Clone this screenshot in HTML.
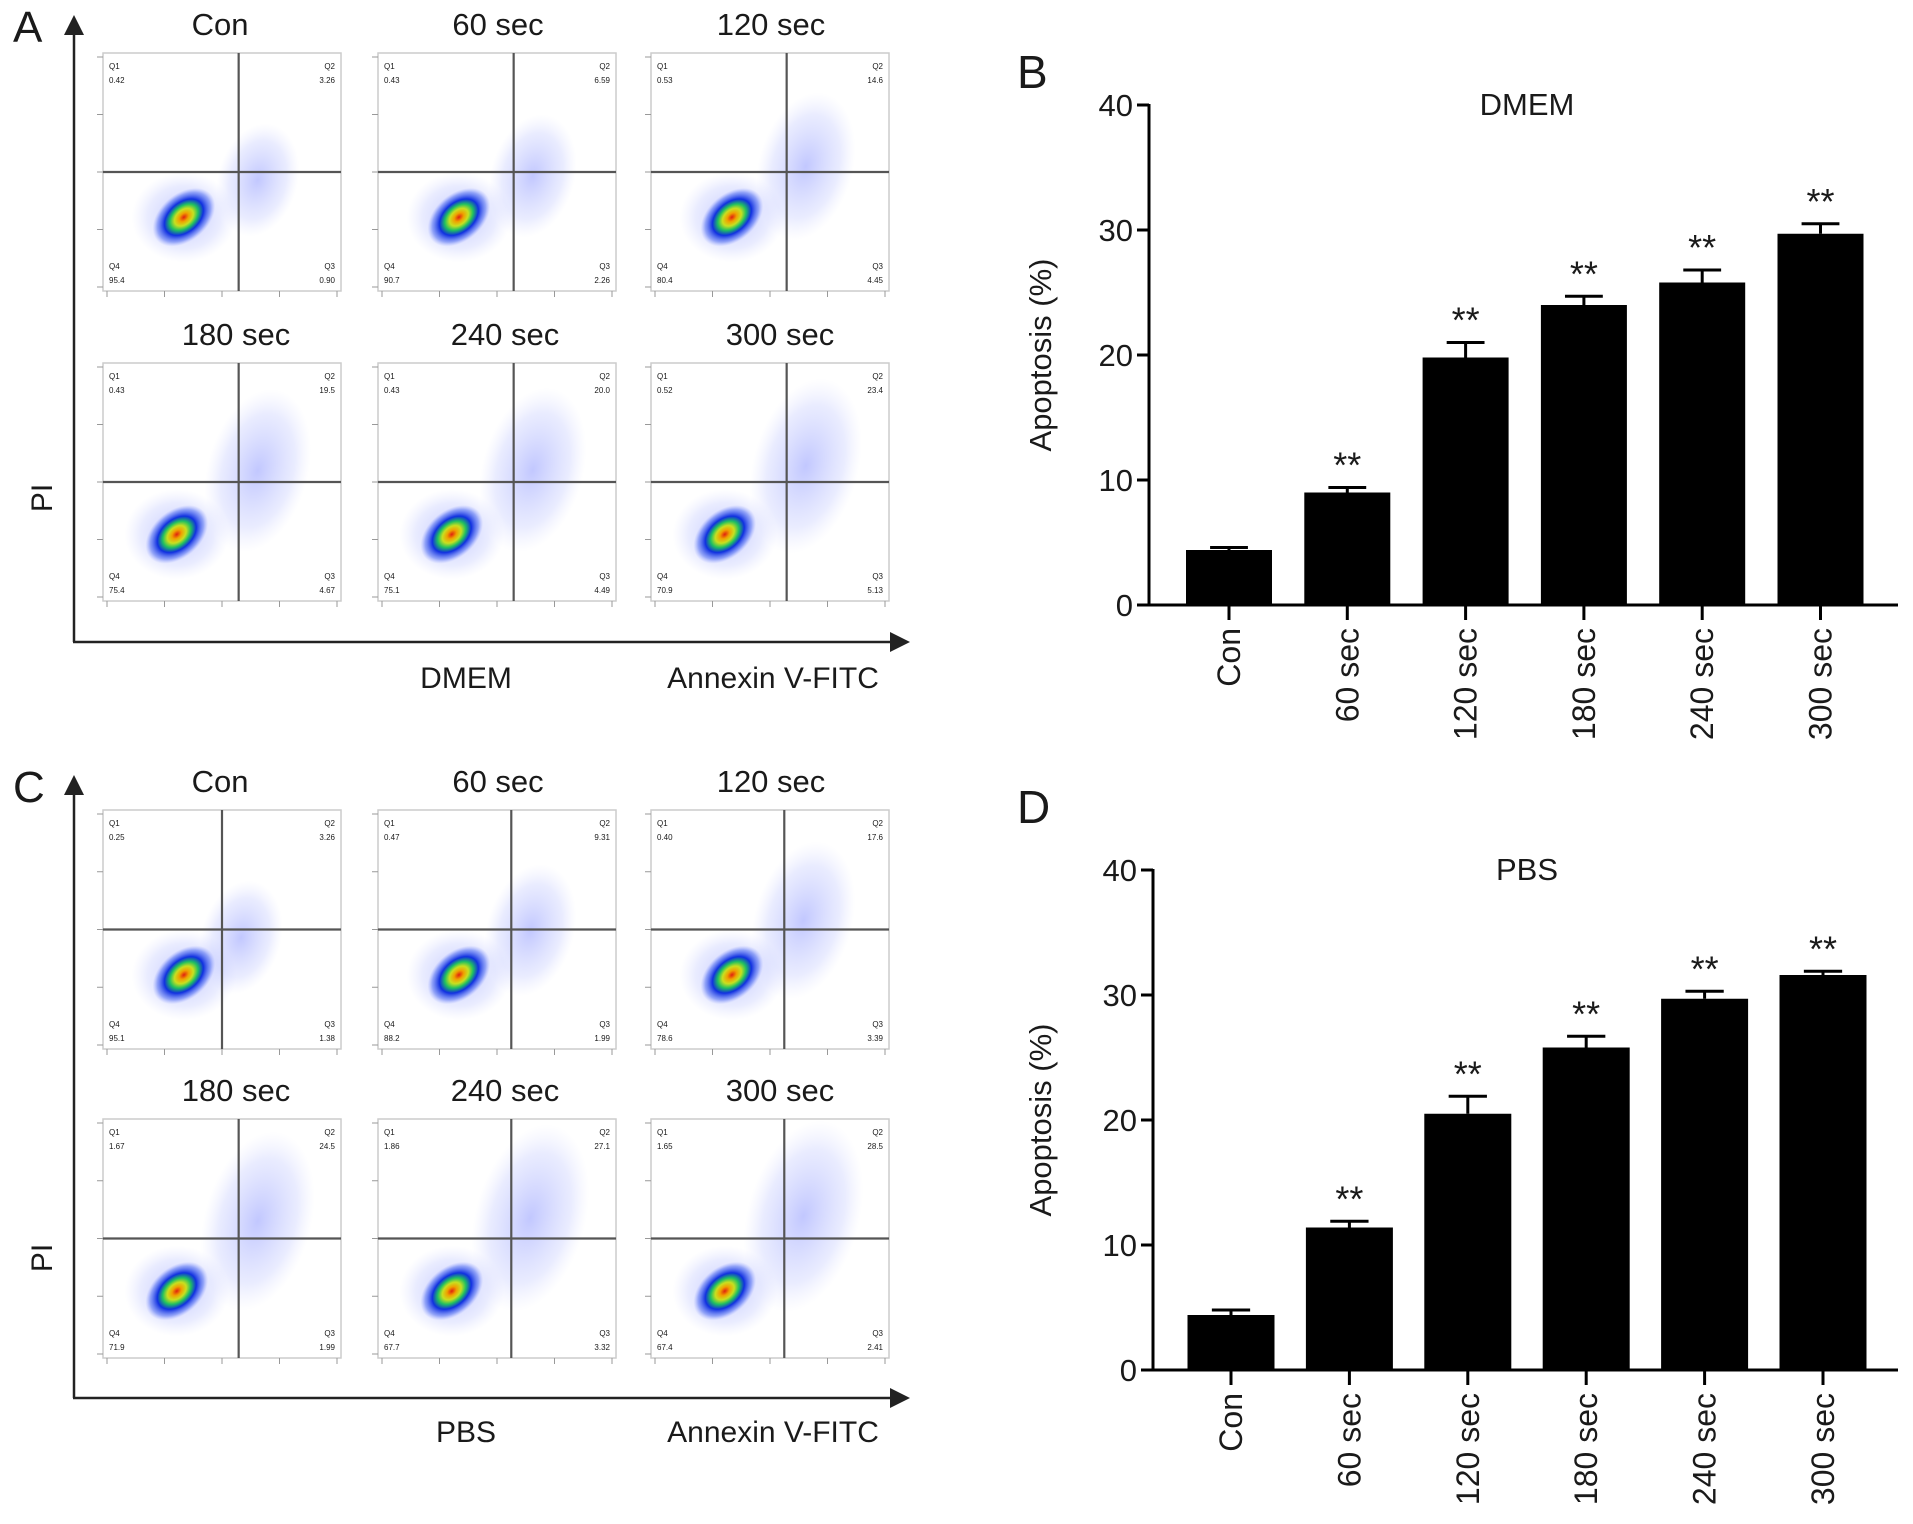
<!DOCTYPE html>
<html><head><meta charset="utf-8"><style>
html,body{margin:0;padding:0;background:#fff}
svg{display:block}
text{font-family:"Liberation Sans",Arial,sans-serif;fill:#1a1a1a}
</style></head><body>
<svg id="fig" width="1913" height="1524" viewBox="0 0 1913 1524" xmlns="http://www.w3.org/2000/svg">
<defs>
<radialGradient id="core"><stop offset="0" stop-color="#e02010"/><stop offset="0.15" stop-color="#f0a000"/><stop offset="0.3" stop-color="#c8e020"/><stop offset="0.45" stop-color="#20c060"/><stop offset="0.62" stop-color="#1030e0"/><stop offset="0.85" stop-color="#4060f0" stop-opacity="0.5"/><stop offset="1" stop-color="#8090ff" stop-opacity="0"/></radialGradient>
<radialGradient id="haze"><stop offset="0" stop-color="#5060ff" stop-opacity="0.35"/><stop offset="0.7" stop-color="#7080ff" stop-opacity="0.15"/><stop offset="1" stop-color="#a0a8ff" stop-opacity="0"/></radialGradient>
<marker id="arr" markerWidth="8" markerHeight="8" refX="6" refY="4" orient="auto"><path d="M0,0 L8,4 L0,8 z" fill="#222"/></marker>
</defs>
<g id="root"></g>
</svg>
<script>
const categories=["Con","60 sec","120 sec","180 sec","240 sec","300 sec"];
const dmemValues=[4.4,9.0,19.8,24.0,25.8,29.7];
const dmemErr=[0.2,0.4,1.2,0.7,1.0,0.8];
const pbsValues=[4.4,11.4,20.5,25.8,29.7,31.6];
const pbsErr=[0.4,0.5,1.4,0.9,0.6,0.3];
const yTicks=[0,10,20,30,40];
const dmemQ1=[0.42,0.43,0.53,0.43,0.43,0.52];
const dmemQ2=[3.26,6.59,14.6,19.5,20.0,23.4];
const dmemQ3=[0.90,2.26,4.45,4.67,4.49,5.13];
const dmemQ4=[95.4,90.7,80.4,75.4,75.1,70.9];
const pbsQ1=[0.25,0.47,0.40,1.67,1.86,1.65];
const pbsQ2=[3.26,9.31,17.6,24.5,27.1,28.5];
const pbsQ3=[1.38,1.99,3.39,1.99,3.32,2.41];
const pbsQ4=[95.1,88.2,78.6,71.9,67.7,67.4];

const NS="http://www.w3.org/2000/svg";
const root=document.getElementById('root');
function mk(tag,attrs,parent,txt){const e=document.createElementNS(NS,tag);for(const k in attrs)e.setAttribute(k,attrs[k]);if(txt!==undefined)e.textContent=txt;(parent||root).appendChild(e);return e;}

function barChart(cfg){
  const g=mk('g',{});
  
  
  const y=v=>cfg.y0-(v/40)*(cfg.y0-cfg.y40);
  const x=i=>cfg.c0+i*cfg.step;
  const t=mk('text',{x:cfg.letterX,y:cfg.letterY,'font-size':46},g,cfg.letter);
  
  
  const ti=mk('text',{x:1527,y:cfg.y40+10,'font-size':31,'text-anchor':'middle'},g,cfg.title);
  
  
  const yl=mk('text',{x:0,y:0,'font-size':31,'text-anchor':'middle',transform:`translate(1051,${(cfg.y0+cfg.y40)/2}) rotate(-90)`},g,'Apoptosis (%)');
  
  
  mk('line',{x1:cfg.ax,y1:cfg.y40-1,x2:cfg.ax,y2:cfg.y0+1.5,stroke:'#000','stroke-width':3},g);
  mk('line',{x1:cfg.ax-1.5,y1:cfg.y0,x2:1898,y2:cfg.y0,stroke:'#000','stroke-width':3},g);
  yTicks.forEach(v=>{
    mk('line',{x1:cfg.ax-12,y1:y(v),x2:cfg.ax,y2:y(v),stroke:'#000','stroke-width':3},g);
    const tl=mk('text',{x:cfg.ax-16,y:y(v)+11,'font-size':31,'text-anchor':'end'},g,String(v));
    
    
  });
  cfg.values.forEach((v,i)=>{
    const cx=x(i),w=cfg.bw;
    const top=y(v+cfg.err[i]);
    mk('line',{x1:cx,y1:y(v),x2:cx,y2:top,stroke:'#000','stroke-width':3},g);
    mk('line',{x1:cx-w*0.22,y1:top,x2:cx+w*0.22,y2:top,stroke:'#000','stroke-width':3},g);
    const b=mk('rect',{x:cx-w/2,y:y(v),width:w,height:cfg.y0-y(v),fill:'#000'},g);
    
    
    mk('line',{x1:cx,y1:cfg.y0,x2:cx,y2:cfg.y0+15,stroke:'#000','stroke-width':3},g);
    if(i>0){const s=mk('text',{x:cx,y:top-10,'font-size':36,'text-anchor':'middle'},g,'**');
      
      }
    const xl=mk('text',{x:0,y:0,'font-size':32,'text-anchor':'end',transform:`translate(${cx+11},${cfg.y0+23}) rotate(-90)`},g,categories[i]);
    
    
  });
}
barChart({name:'dmem-bar-chart',letter:'B',letterX:1017,letterY:88,title:'DMEM',ax:1149,y0:605,y40:105,c0:1229,step:118.3,bw:86,values:dmemValues,err:dmemErr});
barChart({name:'pbs-bar-chart',letter:'D',letterX:1017,letterY:823,title:'PBS',ax:1153,y0:1370,y40:870,c0:1231,step:118.4,bw:87,values:pbsValues,err:pbsErr});

const titleX=[220,498,771,236,505,780];
function flowPanel(cfg){
  const g=mk('g',{});
  
  
  const L=mk('text',{x:13,y:cfg.oy+42,'font-size':44},g,cfg.letter);
  
  
  mk('line',{x1:74,y1:cfg.oy+cfg.axBottom,x2:74,y2:cfg.oy+20,stroke:'#222','stroke-width':2.5,'marker-end':'url(#arr)'},g);
  mk('line',{x1:73,y1:cfg.oy+cfg.axBottom,x2:905,y2:cfg.oy+cfg.axBottom,stroke:'#222','stroke-width':2.5,'marker-end':'url(#arr)'},g);
  const pi=mk('text',{x:0,y:0,'font-size':30,'text-anchor':'middle',transform:`translate(52,${cfg.oy+498}) rotate(-90)`},g,'PI');
  
  
  const md=mk('text',{x:466,y:cfg.oy+cfg.labY,'font-size':30,'text-anchor':'middle'},g,cfg.medium);
  
  
  const an=mk('text',{x:773,y:cfg.oy+cfg.labY,'font-size':30,'text-anchor':'middle'},g,'Annexin V-FITC');
  
  
  const xs=[103,378,651], W=238;
  categories.forEach((c,i)=>{
    const bx=xs[i%3], row=Math.floor(i/3), by=cfg.oy+cfg.rowY[row], H=cfg.H;
    const sg=mk('g',{},g);
    
    
    const tt=mk('text',{x:titleX[i],y:by-18,'font-size':31,'text-anchor':'middle'},sg,c);
    
    
    mk('rect',{x:bx,y:by,width:W,height:H,fill:'#fff',stroke:'#ccc','stroke-width':1.5},sg);
    const vx=bx+W*cfg.vfrac[i], hy=by+H*0.5;
    const q2=cfg.q2[i];
    const spread=q2/30;
    const hx=vx+W*0.08, hyc=by+H*(0.55-0.15*spread);
    mk('ellipse',{cx:hx,cy:hyc,rx:W*(0.16+0.08*spread),ry:H*(0.22+0.2*spread),fill:'url(#haze)',transform:`rotate(15 ${hx} ${hyc})`},sg);
    const ccx=bx+W*(row?0.31:0.34), ccy=by+H*(row?0.72:0.69);
    mk('ellipse',{cx:ccx,cy:ccy,rx:W*0.22,ry:H*0.19,fill:'url(#haze)'},sg);
    mk('ellipse',{cx:ccx,cy:ccy,rx:W*0.15,ry:H*0.1,fill:'url(#core)',transform:`rotate(-40 ${ccx} ${ccy})`},sg);
    mk('line',{x1:vx,y1:by,x2:vx,y2:by+H,stroke:'#555','stroke-width':2.2},sg);
    mk('line',{x1:bx,y1:hy,x2:bx+W,y2:hy,stroke:'#555','stroke-width':2.2},sg);
    const fs=8;
    mk('text',{x:bx+6,y:by+16,'font-size':fs},sg,'Q1');
    mk('text',{x:bx+6,y:by+30,'font-size':fs},sg,cfg.q1[i].toFixed(2));
    mk('text',{x:bx+W-6,y:by+16,'font-size':fs,'text-anchor':'end'},sg,'Q2');
    mk('text',{x:bx+W-6,y:by+30,'font-size':fs,'text-anchor':'end'},sg,q2.toFixed(q2<10?2:1));
    mk('text',{x:bx+6,y:by+H-22,'font-size':fs},sg,'Q4');
    mk('text',{x:bx+6,y:by+H-8,'font-size':fs},sg,String(cfg.q4[i]));
    mk('text',{x:bx+W-6,y:by+H-22,'font-size':fs,'text-anchor':'end'},sg,'Q3');
    mk('text',{x:bx+W-6,y:by+H-8,'font-size':fs,'text-anchor':'end'},sg,cfg.q3[i].toFixed(2));
    for(let k=0;k<5;k++){
      mk('line',{x1:bx+4+k*(W-8)/4,y1:by+H,x2:bx+4+k*(W-8)/4,y2:by+H+6,stroke:'#999','stroke-width':1},sg);
      mk('line',{x1:bx-6,y1:by+4+k*(H-8)/4,x2:bx,y2:by+4+k*(H-8)/4,stroke:'#999','stroke-width':1},sg);
    }
  });
}
flowPanel({name:'dmem-flow-panel',letter:'A',medium:'DMEM',oy:0,axBottom:642,labY:688,rowY:[53,363],H:238,vfrac:[0.57,0.57,0.57,0.57,0.57,0.57],q1:dmemQ1,q2:dmemQ2,q3:dmemQ3,q4:dmemQ4});
flowPanel({name:'pbs-flow-panel',letter:'C',medium:'PBS',oy:760,axBottom:638,labY:682,rowY:[50,359],H:239,vfrac:[0.5,0.56,0.56,0.57,0.56,0.56],q1:pbsQ1,q2:pbsQ2,q3:pbsQ3,q4:pbsQ4});
</script>
</body></html>
